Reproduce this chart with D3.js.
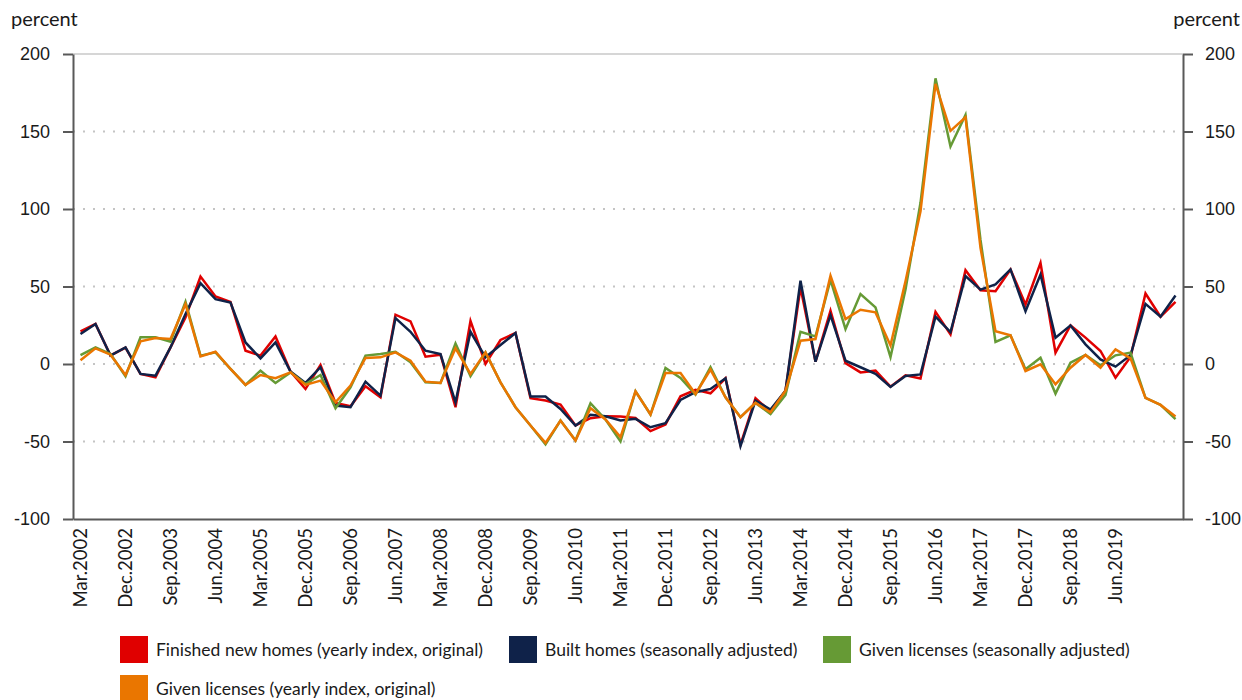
<!DOCTYPE html>
<html>
<head>
    <meta charset="UTF-8">
    <title>Homes and licenses</title>
    <script src="https://d3js.org/d3.v7.min.js"></script>
    <style type="text/css">
        body { margin: 0; background: white; }
        text { font-family: Lato, "Open Sans", sans-serif; fill: #1a1a1a; }
    </style>
</head>
<body>
    <svg id="chart"></svg>

    <script>
        const width = 1242;
        const height = 700;
        const margins = { top: 54, bottom: 181, left: 73, right: 59 };

        // quarters Mar.2002 .. Jun.2020
        const monthNames = ["Mar", "Jun", "Sep", "Dec"];
        const quarters = [];
        for (let i = 0; i < 74; i++) {
            quarters.push(`${monthNames[i % 4]}.${2002 + Math.floor(i / 4)}`);
        }
        const xTickLabels = quarters.filter((q, i) => i % 3 === 0 && i <= 69);
        const yTicks = [-100, -50, 0, 50, 100, 150, 200];

        const finishedNew = [21, 25.8, 5.5, 10.5, -6.4, -8.6, 10.7, 30, 56.4, 43.6,
            40.1, 8.6, 5.4, 17.8, -4.9, -16.1, -0.6, -25.1, -27.3, -14.4,
            -21.5, 31.8, 27.5, 4.7, 6, -27.9, 27.7, 0, 15.5, 20,
            -22.1, -23.6, -26.2, -39.7, -35, -33.7, -33.9, -34.8, -43.3, -39,
            -20.8, -16.7, -18.9, -9.2, -52, -22.1, -30.7, -17.2, 49.4, 1.5,
            34.3, 0.6, -5.4, -4.3, -14.6, -7.3, -9.4, 33.7, 19.1, 60.5,
            47.6, 47, 61, 38.4, 65.2, 7.3, 24.9, 17, 8.4, -8.8,
            4.5, 45.5, 30.5, 40.1];
        const builtSA = [19.3, 25.8, 5.4, 10.7, -6.4, -7.5, 10.7, 32.2, 52.1, 41.8,
            39.7, 13.9, 3.6, 13.9, -4.9, -12.2, -2.1, -26.8, -27.9, -11.4,
            -20.4, 29.6, 20.8, 8.6, 6.4, -24.7, 20.8, 4.3, 12.2, 20,
            -21, -21, -29, -39.7, -32.8, -33.7, -36.5, -35.4, -40.8, -38.2,
            -23.2, -18.2, -16.1, -9.2, -53, -23.6, -29.4, -17.2, 53.7, 1.5,
            31.5, 2.1, -2.1, -6.4, -14.8, -7.7, -6.7, 30.5, 20.6, 56.7,
            48, 51.3, 61, 34.1, 57.7, 17, 24.9, 12.7, 3, -1.7,
            5.6, 38.8, 30.5, 44.2];
        const licensesSA = [5.8, 10.7, 6.4, -7.9, 17.2, 17.2, 14.4, 40.1, 5.4, 7.5,
            -3.2, -13.5, -4.3, -12.2, -5.4, -12.9, -7.1, -28.5, -15, 5.4,
            6.4, 7.9, 1.1, -11.8, -12.2, 13.3, -7.9, 7.5, -11.8, -27.9,
            -39.7, -51.9, -36.5, -49.4, -25.3, -35.8, -50, -17.6, -32.6, -2.6,
            -9, -19.7, -2.1, -21.5, -34.3, -25.1, -32.2, -20, 20.8, 17.8,
            54.3, 22.5, 45.1, 36.5, 4.5, 48, 104, 184.3, 140.3, 160.7,
            80, 14.2, 18.5, -3.4, 4.1, -19.1, 0.9, 5.8, -0.9, 5.6,
            7.3, -21.9, -26.4, -35.6];
        const licensesOrig = [2.4, 10.1, 6, -7.1, 14.6, 16.7, 16.1, 38.6, 4.9, 7.9,
            -3.2, -13.5, -7.1, -9.2, -5.4, -13.5, -10.7, -24.7, -13.9, 3.9,
            4.3, 7.5, 2.1, -11.4, -12.2, 10.1, -6.4, 7.5, -11.8, -27.9,
            -39.7, -50.9, -36.5, -49.4, -28.5, -35.8, -47.2, -17.6, -32.6, -5.8,
            -5.8, -19.3, -3.6, -21.5, -34.3, -25.1, -31.1, -17.2, 15, 16.1,
            56.9, 29, 35, 33.3, 12, 53.4, 98.5, 180.7, 150.4, 159.2,
            75, 21.2, 18.5, -4.5, -0.2, -13.1, -2.4, 5.8, -2.4, 9.4,
            3.6, -21.9, -26.4, -33.9];

        const seriesNames = [
            "Finished new homes (yearly index, original)",
            "Built homes (seasonally adjusted)",
            "Given licenses (seasonally adjusted)",
            "Given licenses (yearly index, original)"
        ];
        const seriesValues = [finishedNew, builtSA, licensesSA, licensesOrig];
        const seriesColors = ["#e00000", "#0f2249", "#669a35", "#ea7600"];

        const svg = d3.select("#chart")
            .attr("width", width)
            .attr("height", height);

        const x = d3.scaleBand()
            .domain(quarters)
            .range([margins.left, width - margins.right]);
        const y = d3.scaleLinear()
            .domain([-100, 200])
            .range([height - margins.bottom, margins.top]);

        // gridlines
        svg.append("g")
            .selectAll("line")
            .data(yTicks.filter(t => t > -100 && t < 200))
            .join("line")
            .attr("x1", margins.left)
            .attr("x2", width - margins.right)
            .attr("y1", d => y(d))
            .attr("y2", d => y(d))
            .attr("stroke", "#c4c4c4")
            .attr("stroke-width", 2)
            .attr("stroke-dasharray", "2,8");
        svg.append("line")
            .attr("x1", margins.left)
            .attr("x2", width - margins.right)
            .attr("y1", y(200))
            .attr("y2", y(200))
            .attr("stroke", "#c8c8c8")
            .attr("stroke-width", 1.5);

        // axes (plain hyphen for negatives, as in the original)
        const fmt = d => String(d);
        const styleAxis = (g) => {
            g.select(".domain").attr("stroke", "#595959").attr("stroke-width", 2);
            g.selectAll(".tick line").attr("stroke", "#595959").attr("stroke-width", 2);
            g.selectAll(".tick text")
                .style("font-family", "'Liberation Sans', Arial, sans-serif")
                .style("font-size", "18px")
                .attr("fill", "#1a1a1a");
        };
        svg.append("g")
            .attr("transform", `translate(${margins.left},0)`)
            .call(d3.axisLeft(y).tickValues(yTicks).tickFormat(fmt).tickSize(10).tickSizeOuter(0).tickPadding(13))
            .call(styleAxis);
        svg.append("g")
            .attr("transform", `translate(${width - margins.right},0)`)
            .call(d3.axisRight(y).tickValues(yTicks).tickFormat(fmt).tickSize(10).tickSizeOuter(0).tickPadding(12))
            .call(styleAxis);

        const xAxis = svg.append("g")
            .attr("transform", `translate(0,${height - margins.bottom})`)
            .call(d3.axisBottom(x).tickValues(xTickLabels).tickSize(0).tickSizeOuter(0));
        xAxis.select(".domain").attr("stroke", "#595959").attr("stroke-width", 2);
        xAxis.selectAll(".tick text")
            .attr("transform", "rotate(-90)")
            .attr("x", -9)
            .attr("y", 0)
            .attr("dy", "0.36em")
            .attr("text-anchor", "end")
            .style("font-family", "Lato, sans-serif")
            .style("font-size", "18.5px")
            .attr("fill", "#1a1a1a");

        // unit labels
        svg.append("text")
            .attr("x", 11)
            .attr("y", 26)
            .style("font-size", "20px")
            .text("percent");
        svg.append("text")
            .attr("x", 1240)
            .attr("y", 26)
            .attr("text-anchor", "end")
            .style("font-size", "20px")
            .text("percent");

        // lines
        const line = d3.line()
            .x((d, i) => x(quarters[i]) + x.bandwidth() / 2)
            .y(d => y(d));
        seriesValues.forEach((vals, s) => {
            svg.append("path")
                .datum(vals)
                .attr("fill", "none")
                .attr("stroke", seriesColors[s])
                .attr("stroke-width", 2.5)
                .attr("d", line);
        });

        // legend
        const legendPos = [[120, 636], [509, 636], [823, 636], [120, 675]];
        const legend = svg.append("g")
            .selectAll("g")
            .data(seriesNames)
            .join("g")
            .attr("transform", (d, i) => `translate(${legendPos[i][0]},${legendPos[i][1]})`);
        legend.append("rect")
            .attr("width", 28)
            .attr("height", 27)
            .attr("fill", (d, i) => seriesColors[i]);
        legend.append("text")
            .attr("x", 36)
            .attr("y", 20)
            .style("font-size", "17.5px")
            .text(d => d);
    </script>
</body>
</html>
